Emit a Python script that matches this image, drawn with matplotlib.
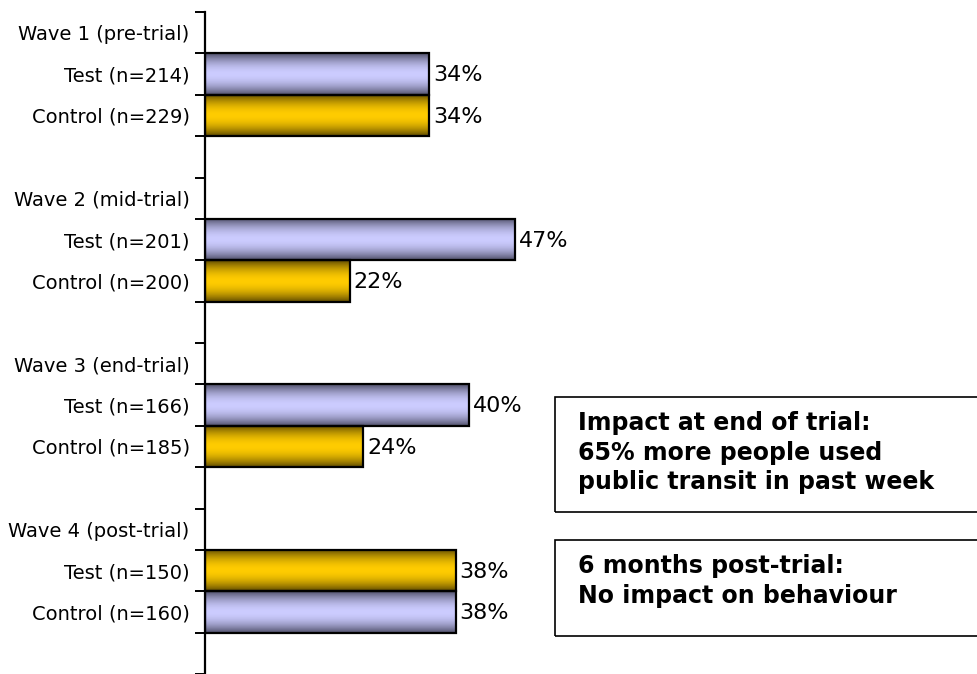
import matplotlib
matplotlib.use("Agg")
import matplotlib.pyplot as plt
import numpy as np
from matplotlib.colors import to_rgb

# data
waves = ["Wave 1 (pre-trial)", "Wave 2 (mid-trial)", "Wave 3 (end-trial)", "Wave 4 (post-trial)"]
test_labels = ["Test (n=214)", "Test (n=201)", "Test (n=166)", "Test (n=150)"]
control_labels = ["Control (n=229)", "Control (n=200)", "Control (n=185)", "Control (n=160)"]
test_values = [34, 47, 40, 38]
control_values = [34, 22, 24, 38]
# wave 4 has its colours swapped in the original
test_colors = ["lavender", "lavender", "lavender", "gold"]
control_colors = ["gold", "gold", "gold", "lavender"]

notes = [
    "Impact at end of trial:\n65% more people used\npublic transit in past week",
    "6 months post-trial:\nNo impact on behaviour",
]

PALETTE = {
    "lavender": ("#50506a", "#ccccff"),
    "gold": ("#604b00", "#ffcc00"),
}


def gradient(name, n=64):
    dark, light = (np.array(to_rgb(c)) for c in PALETTE[name])
    t = np.linspace(0, 1, n)
    f = 1 - np.abs(2 * t - 1) ** 1.9
    return (dark[None, :] + (light - dark)[None, :] * f[:, None])[:, None, :]


W, H = 977, 674
fig = plt.figure(figsize=(W / 100, H / 100), dpi=100)
ax = fig.add_axes([205 / W, 0, 1 - 205 / W, (H - 12) / H])

ypos, vals, cols = [], [], []
label_pos, label_txt = [], []
for i, wave in enumerate(waves):
    base = i * 4
    label_pos += [base, base + 1, base + 2]
    label_txt += [wave, test_labels[i], control_labels[i]]
    ypos += [base + 1, base + 2]
    vals += [test_values[i], control_values[i]]
    cols += [test_colors[i], control_colors[i]]

bars = ax.barh(ypos, vals, height=1.0, facecolor="none",
               edgecolor="black", linewidth=1.6, zorder=3)
for b, c, v in zip(bars, cols, vals):
    x0, y0, w, h = b.get_x(), b.get_y(), b.get_width(), b.get_height()
    ax.imshow(gradient(c), extent=[x0, x0 + w, y0 + h, y0],
              aspect="auto", zorder=2, interpolation="bilinear")
    ax.text(x0 + w + 0.55, y0 + h / 2 + 0.03, f"{v}%", va="center", ha="left",
            fontsize=16, color="black")

ax.set_xlim(0, 117)
ax.set_ylim(15.5, -0.5)
ax.set_aspect("auto")

ax.set_yticks(np.arange(-0.5, 16, 1))
ax.set_yticklabels([])
ax.set_yticks(label_pos, minor=True)
ax.set_yticklabels(label_txt, minor=True, fontsize=14)
ax.tick_params(axis="y", which="major", direction="out", length=7, width=1.4)
ax.tick_params(axis="y", which="minor", length=0, pad=11)
ax.set_xticks([])
for s in ["top", "right", "bottom"]:
    ax.spines[s].set_visible(False)
ax.spines["left"].set_linewidth(1.6)

# annotation boxes
for (x0, y0, x1, y1), txt in zip([(555, 397, 985, 512), (555, 540, 985, 636)], notes):
    rect = plt.Rectangle((x0 / W, 1 - y1 / H), (x1 - x0) / W, (y1 - y0) / H,
                         transform=fig.transFigure, fill=False,
                         edgecolor="black", linewidth=1.2)
    fig.add_artist(rect)
    fig.text(578 / W, 1 - (y0 + 14) / H, txt, ha="left", va="top",
             fontsize=17, fontweight="bold", linespacing=1.3)

fig.savefig("out.png", dpi=100)
